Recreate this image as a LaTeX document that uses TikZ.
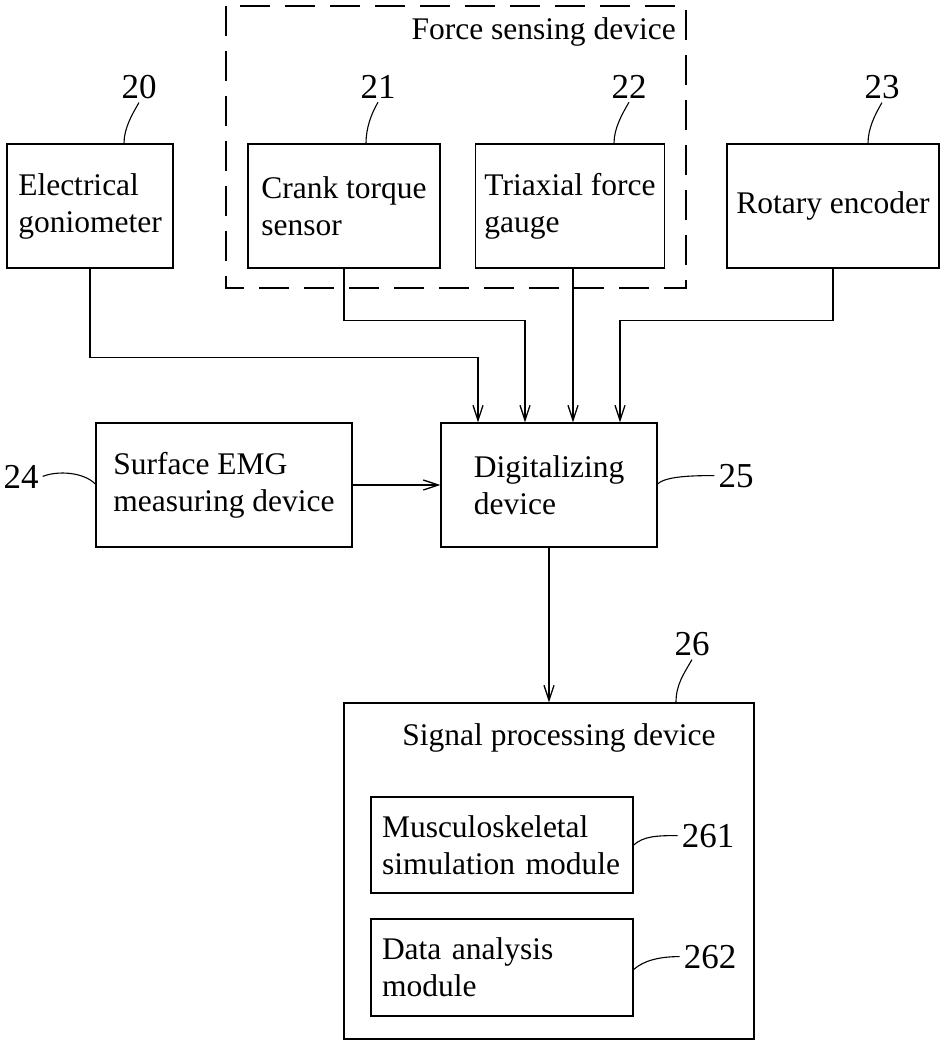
\documentclass[tikz,border=0pt]{standalone}
\usepackage{fontspec}
\setmainfont{Liberation Serif}
\usetikzlibrary{arrows.meta}
\tikzset{
  blk/.style={draw,line width=1.3pt,align=left,inner sep=0pt},
  arr/.style={line width=1.3pt,-{Straight Barb[length=15pt,width=10pt]}},
  lead/.style={line width=1.1pt},
  num/.style={inner sep=4pt,anchor=base,font=\fontsize{35}{40}\selectfont},
  grpframe/.style={line width=1.3pt,dash pattern=on 30pt off 15pt},
}
\begin{document}
\begin{tikzpicture}[x=1pt,y=-1pt,font=\fontsize{31.5}{37}\selectfont]
\useasboundingbox (0,0) rectangle (940,1041);
\draw[grpframe] (226,6) rectangle (686,288); %force sensing frame
\node[inner sep=0pt,anchor=base east] (fsd) at (676,40) {Force sensing device};
% top row
\node[blk,minimum width=166pt,minimum height=124pt] (gonio) at (90,206) {Electrical\\goniometer};
\node[blk,minimum width=192pt,minimum height=124pt] (crank) at (344,206) {Crank torque\\sensor};
\node[blk,minimum width=189pt,minimum height=124pt] (triax) at (570,206) {Triaxial force\\gauge};
\node[blk,minimum width=212pt,minimum height=124pt] (rotary) at (833,206) {Rotary encoder};
% middle row
\node[blk,minimum width=256pt,minimum height=124pt] (emg) at (224,485) {Surface EMG\\measuring device};
\node[blk,minimum width=216pt,minimum height=124pt] (digit) at (549,485) {Digitalizing\\device};
% signal processing
\node[blk,minimum width=410pt,minimum height=336pt] (signal) at (549,871) {};
\node[inner sep=0pt,anchor=base] (sigtitle) at (559,745) {Signal processing device};
\node[blk,minimum width=262pt,minimum height=96pt,text width=240pt] (musc) at (502,845) {Musculoskeletal\\simulation module};
\node[blk,minimum width=262pt,minimum height=97pt,text width=240pt] (data) at (502,967.5) {Data analysis\\module};
% numerals
\node[num] (n20) at (139,98) {20};
\node[num] (n21) at (378,98) {21};
\node[num] (n22) at (629,98) {22};
\node[num] (n23) at (882,98) {23};
\node[num] (n24) at (21,488) {24};
\node[num] (n25) at (736,487) {25};
\node[num] (n26) at (692,655) {26};
\node[num] (n261) at (708,847) {261};
\node[num] (n262) at (710,968) {262};
% leaders
\draw[lead] ([xshift=34pt]gonio.north) .. controls +(0,-15) and +(-7,12) .. (n20.south);
\draw[lead] ([xshift=22pt]crank.north) .. controls +(0,-15) and +(-7,12) .. (n21.south);
\draw[lead] ([xshift=44pt]triax.north) .. controls +(0,-15) and +(-7,12) .. (n22.south);
\draw[lead] ([xshift=35pt]rotary.north) .. controls +(0,-15) and +(-7,12) .. (n23.south);
\draw[lead] (n24.east) .. controls +(15,-6) and +(-12,-12) .. ([yshift=1pt]emg.west);
\draw[lead] ([yshift=1pt]digit.east) .. controls +(8,-8) and +(-20,0) .. (n25.west);
\draw[lead] ([xshift=127pt]signal.north) .. controls +(0,-18) and +(-8,14) .. (n26.south);
\draw[lead] (musc.east) .. controls +(10,-9) and +(-20,0) .. (n261.west);
\draw[lead] ([yshift=-2pt]data.east) .. controls +(10,-9) and +(-20,0) .. (n262.west);
% connectors
\draw[arr] (gonio.south) -- ++(0,89) -| ([xshift=-71pt]digit.north);
\draw[arr] (crank.south) -- ++(0,52) -| ([xshift=-24pt]digit.north);
\draw[arr] ([xshift=24pt]digit.north |- triax.south) -- ([xshift=24pt]digit.north);
\draw[arr] (rotary.south) -- ++(0,52) -| ([xshift=71pt]digit.north);
\draw[arr] (emg.east) -- (digit.west);
\draw[arr] (digit.south) -- (signal.north);
\end{tikzpicture}
\end{document}
